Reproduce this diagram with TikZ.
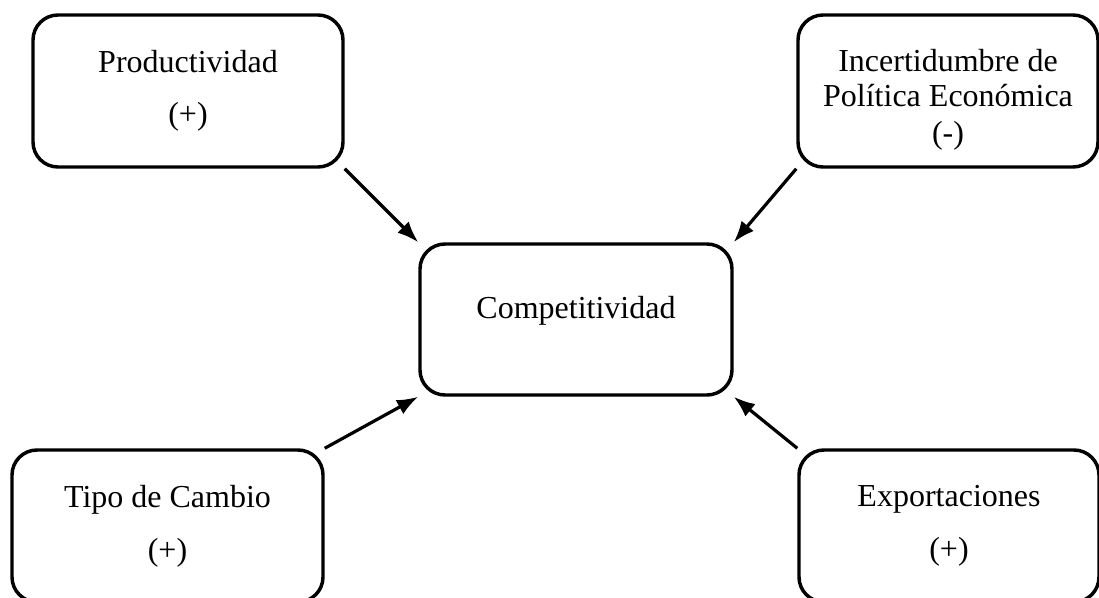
\documentclass[tikz,border=0pt]{standalone}
\usepackage{fontspec}
\setmainfont{Liberation Serif}
\usetikzlibrary{arrows.meta}

\begin{document}
\begin{tikzpicture}[x=0.75pt, y=-0.75pt,
  factor/.style={draw, line width=2.6pt, rounded corners=18.75pt, align=center,
    inner sep=0pt, minimum height=114pt, font=\fontsize{24}{26}\selectfont},
  effect/.style={-{Latex[length=16pt,width=12pt]}, line width=2.4pt}]
\useasboundingbox (0,0) rectangle (1099,597);
\clip (0,0) rectangle (1099,597);
\node[factor, minimum width=232.5pt] (prod) at (188,91) {Productividad\\[13pt](+)};
\node[factor, minimum width=225pt] (incert) at (948,91) {\rule{0pt}{30pt}Incertidumbre de\\Política Económica\\[2pt](-)};
\node[factor, minimum width=234pt, minimum height=113.25pt] (comp) at (576,319.5) {Competitividad\rule[-18pt]{0pt}{1pt}};
\node[factor, minimum width=233.25pt] (tipo) at (167.5,526) {Tipo de Cambio\\[14pt](+)};
\node[factor, minimum width=225pt] (expo) at (949,526) {Exportaciones\\[14pt](+)};
\draw[effect] (prod.south east) -- (comp.north west);
\draw[effect] (incert.south west) -- (comp.north east);
\draw[effect] (tipo.north east) -- (comp.south west);
\draw[effect] (expo.north west) -- (comp.south east);
\end{tikzpicture}
\end{document}
